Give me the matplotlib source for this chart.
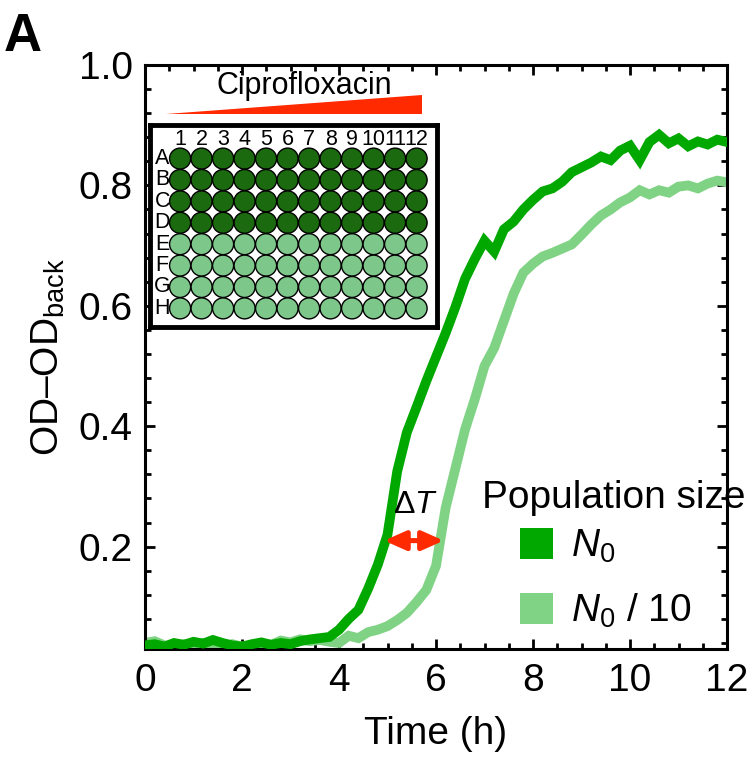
import matplotlib
matplotlib.use('Agg')
import matplotlib.pyplot as plt
from matplotlib.patches import Patch, Circle, Polygon
from matplotlib.ticker import MultipleLocator, FixedLocator

plt.rcParams['font.family'] = ['Liberation Sans', 'DejaVu Sans']
plt.rcParams['mathtext.fontset'] = 'custom'
plt.rcParams['mathtext.rm'] = 'Liberation Sans'
plt.rcParams['mathtext.it'] = 'Liberation Sans:italic'
plt.rcParams['mathtext.bf'] = 'Liberation Sans:bold'

# ---------------- data ----------------
time_h = [0.0, 0.2, 0.4, 0.6, 0.8, 1.0, 1.2, 1.4, 1.6, 1.8,
          2.0, 2.2, 2.4, 2.6, 2.8, 3.0, 3.2, 3.4, 3.6, 3.8,
          4.0, 4.2, 4.4, 4.6, 4.8, 5.0, 5.2, 5.4, 5.6, 5.8,
          6.0, 6.2, 6.4, 6.6, 6.8, 7.0, 7.2, 7.4, 7.6, 7.8,
          8.0, 8.2, 8.4, 8.6, 8.8, 9.0, 9.2, 9.4, 9.6, 9.8,
          10.0, 10.2, 10.4, 10.6, 10.8, 11.0, 11.2, 11.4, 11.6, 11.8,
          12.0]

od_n0 = [0.036, 0.038, 0.034, 0.040, 0.037, 0.042, 0.039, 0.045, 0.040, 0.036,
         0.034, 0.038, 0.041, 0.037, 0.040, 0.038, 0.043, 0.046, 0.048, 0.050,
         0.062, 0.080, 0.095, 0.130, 0.170, 0.220, 0.325, 0.390, 0.432, 0.475,
         0.515, 0.555, 0.598, 0.645, 0.678, 0.708, 0.690, 0.727, 0.740, 0.760,
         0.776, 0.790, 0.795, 0.806, 0.822, 0.830, 0.838, 0.848, 0.842, 0.858,
         0.866, 0.842, 0.872, 0.884, 0.870, 0.878, 0.865, 0.873, 0.868, 0.876,
         0.872]

od_n0_10 = [0.040, 0.043, 0.036, 0.034, 0.038, 0.036, 0.040, 0.037, 0.035, 0.038,
            0.034, 0.036, 0.039, 0.037, 0.044, 0.041, 0.046, 0.043, 0.045, 0.042,
            0.040, 0.052, 0.048, 0.058, 0.062, 0.068, 0.078, 0.090, 0.108, 0.128,
            0.168, 0.265, 0.330, 0.395, 0.445, 0.500, 0.530, 0.575, 0.620, 0.655,
            0.670, 0.682, 0.688, 0.695, 0.702, 0.718, 0.735, 0.750, 0.760, 0.772,
            0.780, 0.792, 0.785, 0.792, 0.788, 0.798, 0.800, 0.795, 0.803, 0.808,
            0.805]

series_labels = ['$N_0$', '$N_0$ / 10']
legend_title = 'Population size'

delta_level = 0.21
delta_t_start = 4.93
delta_t_end = 6.16

plate_rows = ['A', 'B', 'C', 'D', 'E', 'F', 'G', 'H']
plate_cols = [1, 2, 3, 4, 5, 6, 7, 8, 9, 10, 11, 12]
rows_n0 = ['A', 'B', 'C', 'D']

x_ticks = [0, 2, 4, 6, 8, 10, 12]
y_ticks = [0.2, 0.4, 0.6, 0.8, 1.0]

# ---------------- style ----------------
c_dark = '#00A800'
c_light = '#80D384'
c_well_dark = '#1C6A0F'
c_well_light = '#7EC78A'
c_red = '#FF2A00'
FS = 28

W, H = 755, 765
fig = plt.figure(figsize=(W / 100, H / 100), dpi=100)
ax = fig.add_axes([145 / W, 1 - 649 / H, 582 / W, 584 / H])

ax.plot(time_h, od_n0_10, color=c_light, lw=7, solid_joinstyle='miter', zorder=2)
ax.plot(time_h, od_n0, color=c_dark, lw=7, solid_joinstyle='miter', zorder=3)

ax.set_xlim(0, 12)
ax.set_ylim(0.03, 1.0)
ax.xaxis.set_major_locator(FixedLocator(x_ticks))
ax.xaxis.set_minor_locator(MultipleLocator(0.5))
ax.yaxis.set_major_locator(FixedLocator(y_ticks))
ax.yaxis.set_minor_locator(MultipleLocator(0.04))
ax.set_xticklabels([str(v) for v in x_ticks])
ax.set_yticklabels(['%.1f' % v for v in y_ticks])
ax.tick_params(which='both', direction='in', top=True, right=True, width=2, labelsize=FS)
ax.tick_params(which='major', length=7, pad=10)
ax.tick_params(which='minor', length=4)
ax.tick_params(axis='y', which='major', pad=9)
for s in ax.spines.values():
    s.set_linewidth(2.2)

ax.set_xlabel('Time (h)', fontsize=FS, labelpad=12)
ax.set_ylabel('OD\u2013OD$_{\\mathregular{back}}$', fontsize=FS, labelpad=8)

# Delta T arrow (two heads drawn from the middle outwards)
t_mid = (delta_t_start + delta_t_end) / 2
for t_end in (delta_t_start, delta_t_end):
    ax.annotate('', xy=(t_end, delta_level), xytext=(t_mid, delta_level),
                arrowprops=dict(arrowstyle='-|>,head_length=0.72,head_width=0.32',
                                color=c_red, lw=3.6, mutation_scale=18,
                                shrinkA=0, shrinkB=0), zorder=5)
ax.text(t_mid + 0.04, delta_level + 0.06, r'$\Delta T$',
        fontsize=23, ha='center', va='center', zorder=6)

# legend
handles = [Patch(facecolor=c_dark, edgecolor='none', label=series_labels[0]),
           Patch(facecolor=c_light, edgecolor='none', label=series_labels[1])]
leg = ax.legend(handles=handles, loc='center left',
                bbox_to_anchor=((520 - 145) / 582, (649 - 579) / 584), frameon=False,
                fontsize=FS, handlelength=0.85, handleheight=0.85,
                handletextpad=0.45, labelspacing=0.68, borderpad=0, borderaxespad=0)
ax.text((614 - 145) / 582, (649 - 498) / 584, legend_title, transform=ax.transAxes,
        fontsize=FS, ha='center', va='center', clip_on=False)

# panel letter
fig.text(4 / W, 1 - 12 / H, 'A', fontsize=38, fontweight='bold', va='top', ha='left')

# ---------------- inset plate ----------------
ins = fig.add_axes([150 / W, 1 - 327 / H, 287 / W, 202 / H])
ins.set_xlim(-0.40, 12.95)
ins.set_ylim(8.87, -0.57)
ins.set_xticks([])
ins.set_yticks([])
for s in ins.spines.values():
    s.set_linewidth(3.5)
for r, row in enumerate(plate_rows):
    fc = c_well_dark if row in rows_n0 else c_well_light
    for c in plate_cols:
        ins.add_patch(Circle((c, r + 1), 0.49, facecolor=fc, edgecolor='black', lw=1.0))
    ins.text(0.17, r + 1, row, fontsize=15.5, ha='center', va='center')
for c in plate_cols:
    ins.text(c, 0.10, str(c), fontsize=15.5, ha='center', va='center')

ins.add_patch(Polygon([(0.34, -1.10), (12.25, -1.10), (12.25, -1.99)], closed=True,
                      facecolor=c_red, edgecolor='none', clip_on=False))
ins.text(6.76, -2.40, 'Ciprofloxacin', fontsize=22, ha='center', va='center',
         clip_on=False, zorder=10)

fig.savefig('out.png', dpi=100)
